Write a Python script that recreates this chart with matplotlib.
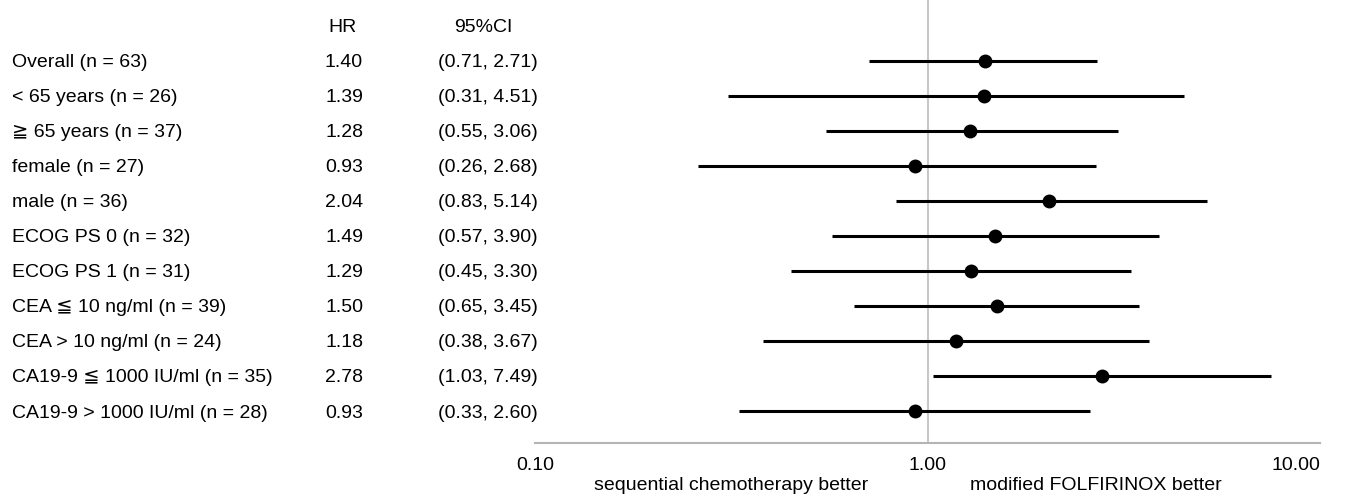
import matplotlib.pyplot as plt
import numpy as np
from matplotlib.transforms import blended_transform_factory

plt.rcParams['font.family'] = ['Liberation Sans', 'DejaVu Sans']

subgroups = [
    "Overall (n = 63)",
    "< 65 years (n = 26)",
    "≧ 65 years (n = 37)",
    "female (n = 27)",
    "male (n = 36)",
    "ECOG PS 0 (n = 32)",
    "ECOG PS 1 (n = 31)",
    "CEA ≦ 10 ng/ml (n = 39)",
    "CEA > 10 ng/ml (n = 24)",
    "CA19-9 ≦ 1000 IU/ml (n = 35)",
    "CA19-9 > 1000 IU/ml (n = 28)",
]
hr = [1.40, 1.39, 1.28, 0.93, 2.04, 1.49, 1.29, 1.50, 1.18, 2.78, 0.93]
ci_low = [0.71, 0.31, 0.55, 0.26, 0.83, 0.57, 0.45, 0.65, 0.38, 1.03, 0.33]
ci_high = [2.71, 4.51, 3.06, 2.68, 5.14, 3.90, 3.30, 3.45, 3.67, 7.49, 2.60]
tick_values = [0.1, 1, 10]
tick_labels = ["0.10", "1.00", "10.00"]

W, H = 1352, 497
fig = plt.figure(figsize=(W / 100, H / 100), dpi=100)
ax = fig.add_axes([535 / W, 1 - 443 / H, 785 / W, 443 / H])

rows = np.arange(len(subgroups))
ax.axvline(1, color="#c8c8c8", lw=1.5, zorder=1)
ax.hlines(rows, ci_low, ci_high, color="black", lw=2.2, zorder=2)
ax.plot(hr, rows, "o", color="black", markersize=9, zorder=3)

fs = 14
ax.set_xscale("log")
ax.set_xlim(0.1, 10)
ax.set_ylim(len(subgroups) - 1 + 0.914, -1.74)
ax.set_yticks([])
ax.set_xticks(tick_values)
ax.set_xticklabels(tick_labels, fontsize=fs)
ax.minorticks_off()
ax.tick_params(axis="x", length=0, pad=10)
ax.get_xticklabels()[-1].set_horizontalalignment("right")
for side in ["top", "left", "right"]:
    ax.spines[side].set_visible(False)
ax.spines["bottom"].set_color("#b4b4b4")
ax.spines["bottom"].set_linewidth(1.5)

trans = blended_transform_factory(fig.transFigure, ax.transData)
for i, name in enumerate(subgroups):
    fig.text(12 / W, i, name, transform=trans, fontsize=fs, va="center_baseline", ha="left")
    fig.text(344 / W, i, f"{hr[i]:.2f}", transform=trans, fontsize=fs,
             va="center_baseline", ha="center")
    fig.text(488 / W, i, f"({ci_low[i]:.2f}, {ci_high[i]:.2f})", transform=trans,
             fontsize=fs, va="center_baseline", ha="center")
fig.text(343 / W, -1, "HR", transform=trans, fontsize=fs, va="center_baseline", ha="center")
fig.text(483 / W, -1, "95%CI", transform=trans, fontsize=fs, va="center_baseline", ha="center")

fig.text(731 / W, 1 - 483 / H, "sequential chemotherapy better", fontsize=fs,
         va="center_baseline", ha="center")
fig.text(1096 / W, 1 - 483 / H, "modified FOLFIRINOX better", fontsize=fs,
         va="center_baseline", ha="center")

fig.savefig("out.png", dpi=100)
